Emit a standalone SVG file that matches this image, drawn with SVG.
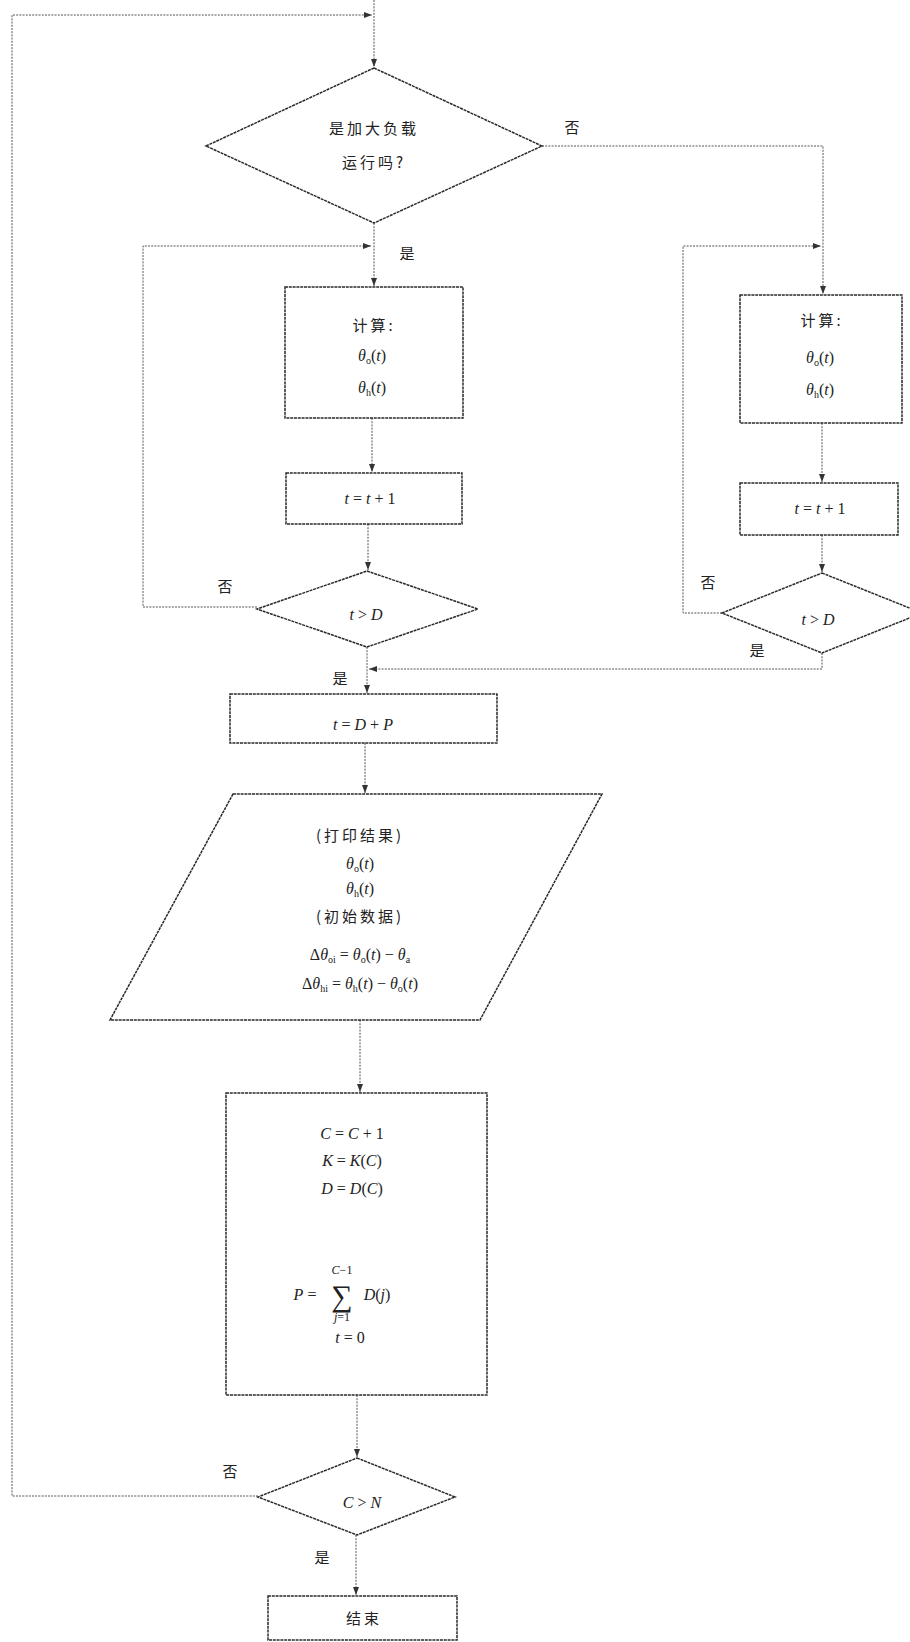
<svg xmlns="http://www.w3.org/2000/svg" width="910" height="1642" viewBox="0 0 910 1642">
<defs>
<marker id="arr" viewBox="0 0 8 6" refX="8" refY="3" markerWidth="8" markerHeight="6" markerUnits="userSpaceOnUse" orient="auto">
<path d="M0,0 L8,3 L0,6 z" fill="#333"/>
</marker>
<style>
.shape{fill:#fff;stroke:#2a2a2a;stroke-width:1.5;stroke-dasharray:3 0.8}
.conn{fill:none;stroke:#555;stroke-width:1;stroke-dasharray:2 1.2}
.cn{font-family:"Noto Sans CJK SC","Liberation Serif",serif;font-size:15px;fill:#222;text-anchor:middle;letter-spacing:3px}
.lab{font-family:"Noto Sans CJK SC","Liberation Serif",serif;font-size:15px;fill:#222;text-anchor:middle}
.m{font-family:"Liberation Serif",serif;font-style:italic;font-size:16px;fill:#222;text-anchor:middle}
.up{font-style:normal}
.sub{font-style:normal;font-size:10px}
</style>
</defs>
<rect width="910" height="1642" fill="#fff"/>

<g id="connectors">
<path class="conn" d="M374,0 V67" marker-end="url(#arr)"/>
<path class="conn" d="M258,1496 H12 V15 H372" marker-end="url(#arr)"/>
<path class="conn" d="M542,146 H823 V294" marker-end="url(#arr)"/>
<path class="conn" d="M374,223 V286" marker-end="url(#arr)"/>
<path class="conn" d="M257,607 H143 V246 H371" marker-end="url(#arr)"/>
<path class="conn" d="M722,613 H683 V246 H821" marker-end="url(#arr)"/>
<path class="conn" d="M372,418 V472" marker-end="url(#arr)"/>
<path class="conn" d="M368,524 V570" marker-end="url(#arr)"/>
<path class="conn" d="M822,423 V482" marker-end="url(#arr)"/>
<path class="conn" d="M822,535 V572" marker-end="url(#arr)"/>
<path class="conn" d="M367,647 V693" marker-end="url(#arr)"/>
<path class="conn" d="M822,653 V669 H369" marker-end="url(#arr)"/>
<path class="conn" d="M365,743 V793" marker-end="url(#arr)"/>
<path class="conn" d="M360,1020 V1092" marker-end="url(#arr)"/>
<path class="conn" d="M357,1395 V1457" marker-end="url(#arr)"/>
<path class="conn" d="M356,1535 V1595" marker-end="url(#arr)"/>
<text class="lab" x="572" y="133">否</text>
<text class="lab" x="407" y="259">是</text>
<text class="lab" x="225" y="592">否</text>
<text class="lab" x="708" y="588">否</text>
<text class="lab" x="757" y="656">是</text>
<text class="lab" x="340" y="684">是</text>
<text class="lab" x="230" y="1477">否</text>
<text class="lab" x="322" y="1563">是</text>
</g>

<g id="d1">
<polygon class="shape" points="374,68 542,146 374,223 206,146"/>
<text class="cn" x="374" y="134">是加大负载</text>
<text class="cn" x="374" y="168">运行吗?</text>
</g>

<g id="b1">
<rect class="shape" x="285" y="287" width="178" height="131"/>
<text class="cn" x="374" y="331">计算:</text>
<text class="m" x="372" y="361">θ<tspan class="sub" dy="3">o</tspan><tspan class="up" dy="-3">(</tspan>t<tspan class="up">)</tspan></text>
<text class="m" x="372" y="393">θ<tspan class="sub" dy="3">h</tspan><tspan class="up" dy="-3">(</tspan>t<tspan class="up">)</tspan></text>
</g>

<g id="b2">
<rect class="shape" x="286" y="473" width="176" height="51"/>
<text class="m" x="370" y="504">t<tspan class="up"> = </tspan>t<tspan class="up"> + 1</tspan></text>
</g>

<g id="d2">
<polygon class="shape" points="367,571 478,609 367,647 257,609"/>
<text class="m" x="366" y="620">t<tspan class="up"> &gt; </tspan>D</text>
</g>

<g id="r1">
<rect class="shape" x="740" y="295" width="162" height="128"/>
<text class="cn" x="822" y="326">计算:</text>
<text class="m" x="820" y="363">θ<tspan class="sub" dy="3">o</tspan><tspan class="up" dy="-3">(</tspan>t<tspan class="up">)</tspan></text>
<text class="m" x="820" y="395">θ<tspan class="sub" dy="3">h</tspan><tspan class="up" dy="-3">(</tspan>t<tspan class="up">)</tspan></text>
</g>

<g id="r2">
<rect class="shape" x="740" y="483" width="158" height="52"/>
<text class="m" x="820" y="514">t<tspan class="up"> = </tspan>t<tspan class="up"> + 1</tspan></text>
</g>

<g id="rd">
<polygon class="shape" points="822,573 922,613 822,653 722,613"/>
<text class="m" x="818" y="625">t<tspan class="up"> &gt; </tspan>D</text>
</g>

<g id="b3">
<rect class="shape" x="230" y="694" width="267" height="49"/>
<text class="m" x="363" y="730">t<tspan class="up"> = </tspan>D<tspan class="up"> + </tspan>P</text>
</g>

<g id="io">
<polygon class="shape" points="233,794 602,794 480,1020 110,1020"/>
<text class="cn" x="360" y="841">(打印结果)</text>
<text class="m" x="360" y="869">θ<tspan class="sub" dy="3">o</tspan><tspan class="up" dy="-3">(</tspan>t<tspan class="up">)</tspan></text>
<text class="m" x="360" y="894">θ<tspan class="sub" dy="3">h</tspan><tspan class="up" dy="-3">(</tspan>t<tspan class="up">)</tspan></text>
<text class="cn" x="360" y="922">(初始数据)</text>
<text class="m" x="360" y="960"><tspan class="up">Δ</tspan>θ<tspan class="sub" dy="3">oi</tspan><tspan class="up" dy="-3"> = </tspan>θ<tspan class="sub" dy="3">o</tspan><tspan class="up" dy="-3">(</tspan>t<tspan class="up">) − </tspan>θ<tspan class="sub" dy="3">a</tspan></text>
<text class="m" x="360" y="989"><tspan class="up">Δ</tspan>θ<tspan class="sub" dy="3">hi</tspan><tspan class="up" dy="-3"> = </tspan>θ<tspan class="sub" dy="3">h</tspan><tspan class="up" dy="-3">(</tspan>t<tspan class="up">) − </tspan>θ<tspan class="sub" dy="3">o</tspan><tspan class="up" dy="-3">(</tspan>t<tspan class="up">)</tspan></text>
</g>

<g id="b4">
<rect class="shape" x="226" y="1093" width="261" height="302"/>
<text class="m" x="352" y="1139">C<tspan class="up"> = </tspan>C<tspan class="up"> + 1</tspan></text>
<text class="m" x="352" y="1166">K<tspan class="up"> = </tspan>K<tspan class="up">(</tspan>C<tspan class="up">)</tspan></text>
<text class="m" x="352" y="1194">D<tspan class="up"> = </tspan>D<tspan class="up">(</tspan>C<tspan class="up">)</tspan></text>
<text class="m" x="305" y="1300">P<tspan class="up"> =</tspan></text>
<text class="m" x="342" y="1306" style="font-size:30px;font-style:normal">∑</text>
<text class="m" x="342" y="1274" style="font-size:12px">C<tspan class="up">−1</tspan></text>
<text class="m" x="342" y="1321" style="font-size:12px">j<tspan class="up">=1</tspan></text>
<text class="m" x="377" y="1300">D<tspan class="up">(</tspan>j<tspan class="up">)</tspan></text>
<text class="m" x="350" y="1343">t<tspan class="up"> = 0</tspan></text>
</g>

<g id="d3">
<polygon class="shape" points="357,1458 455,1497 357,1535 258,1497"/>
<text class="m" x="362" y="1508">C<tspan class="up"> &gt; </tspan>N</text>
</g>

<g id="end">
<rect class="shape" x="268" y="1596" width="189" height="44"/>
<text class="cn" x="364" y="1624">结束</text>
</g>
</svg>
